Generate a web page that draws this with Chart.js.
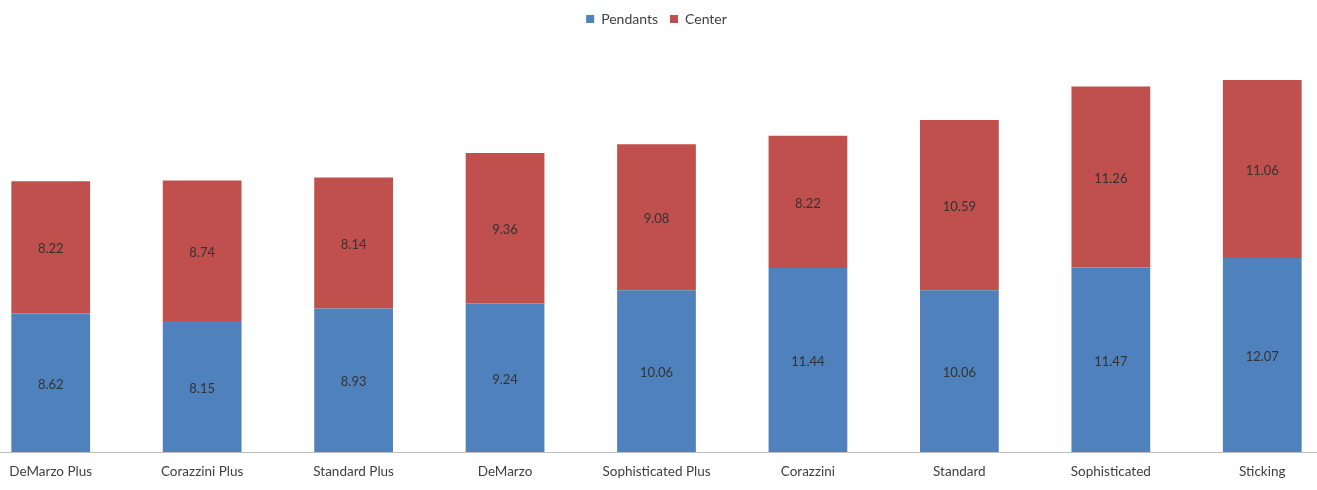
<!DOCTYPE html>
<html>
<head>
<meta charset="utf-8">
<script src="https://cdn.jsdelivr.net/npm/chart.js@4"></script>
<style>
  html, body { margin: 0; padding: 0; background: #fff; overflow: hidden; }
  #wrap { position: absolute; left: -25px; top: 0; width: 1363px; height: 490px; }
</style>
</head>
<body>
<div id="wrap"><canvas id="chart"></canvas></div>
<script>
// chart data
const categories = ['DeMarzo Plus', 'Corazzini Plus', 'Standard Plus', 'DeMarzo',
    'Sophisticated Plus', 'Corazzini', 'Standard', 'Sophisticated', 'Sticking'];
const pendants = [8.62, 8.15, 8.93, 9.24, 10.06, 11.44, 10.06, 11.47, 12.07];
const center = [8.22, 8.74, 8.14, 9.36, 9.08, 8.22, 10.59, 11.26, 11.06];

const FONT = 'Lato, "Liberation Sans", sans-serif';

// draws the value in the middle of every bar segment
const barLabels = {
    id: 'barLabels',
    afterDatasetsDraw(chart) {
        const ctx = chart.ctx;
        ctx.save();
        ctx.font = '13px ' + FONT;
        ctx.fillStyle = '#333333';
        ctx.textAlign = 'center';
        ctx.textBaseline = 'middle';
        chart.data.datasets.forEach(function (ds, i) {
            const meta = chart.getDatasetMeta(i);
            meta.data.forEach(function (bar, j) {
                const y = (bar.y + bar.base) / 2;
                ctx.fillText(ds.data[j].toFixed(2), bar.x, y + 2);
            });
        });
        ctx.restore();
    }
};

// push the plot area down below the legend
const legendSpace = {
    id: 'legendSpace',
    beforeInit(chart) {
        const fit = chart.legend.fit;
        chart.legend.fit = function () {
            fit.bind(chart.legend)();
            this.height = 50;
        };
    }
};

new Chart(document.getElementById('chart'), {
    type: 'bar',
    data: {
        labels: categories,
        datasets: [{
            label: 'Pendants',
            data: pendants,
            backgroundColor: '#4F81BD'
        }, {
            label: 'Center',
            data: center,
            backgroundColor: '#C0504D'
        }]
    },
    options: {
        responsive: true,
        maintainAspectRatio: false,
        animation: false,
        layout: { padding: 0 },
        datasets: {
            bar: { barPercentage: 0.52, categoryPercentage: 1 }
        },
        scales: {
            x: {
                stacked: true,
                grid: { display: false, drawTicks: false },
                border: { display: true, color: '#BFBFBF', width: 1 },
                afterFit(scale) { scale.height = 38; },
                ticks: {
                    padding: 12,
                    color: '#404040',
                    font: { family: FONT, size: 13.5 },
                    maxRotation: 0
                }
            },
            y: {
                stacked: true,
                display: false,
                min: 0,
                max: 25
            }
        },
        plugins: {
            legend: {
                position: 'top',
                labels: {
                    boxWidth: 8,
                    boxHeight: 8,
                    padding: 12,
                    color: '#404040',
                    font: { family: FONT, size: 14 }
                }
            },
            tooltip: { enabled: false }
        }
    },
    plugins: [barLabels, legendSpace]
});
</script>
</body>
</html>
